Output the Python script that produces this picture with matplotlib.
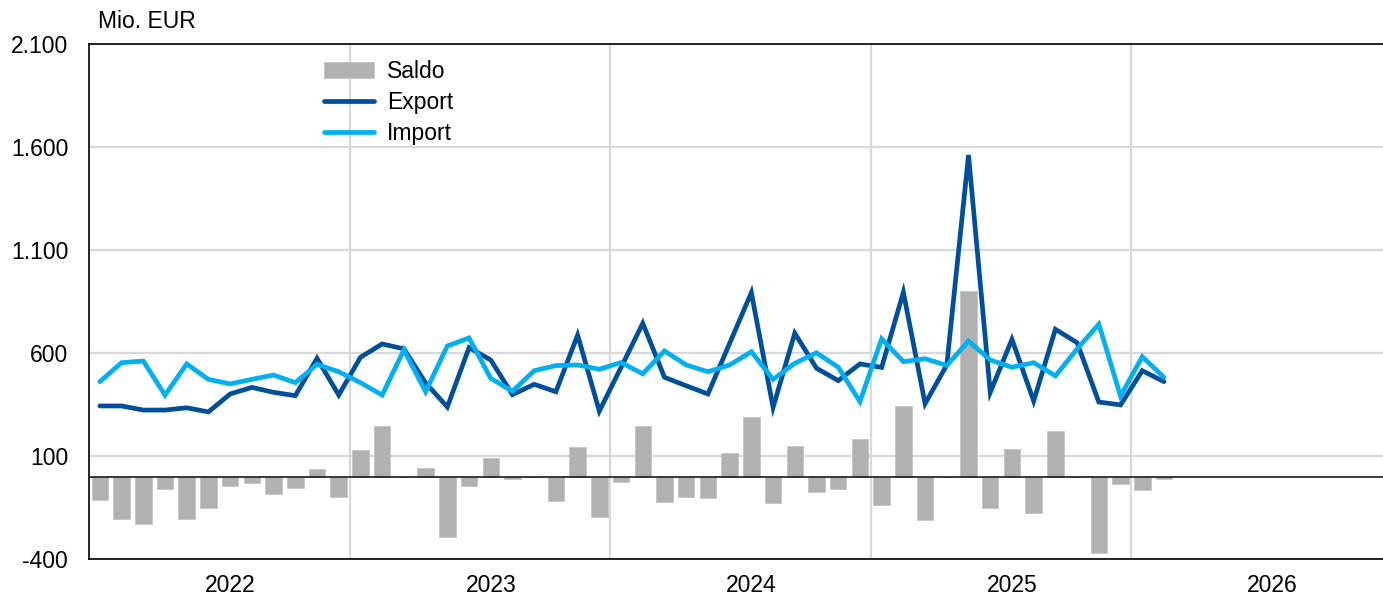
import matplotlib
matplotlib.use("Agg")
import matplotlib.pyplot as plt
from matplotlib.ticker import FixedLocator, FuncFormatter

plt.rcParams['font.family'] = ['Liberation Sans', 'DejaVu Sans']

# Monthly data, Jan 2022 - Feb 2026 (Mio. EUR)
years = ["2022", "2023", "2024", "2025", "2026"]
export = [343, 343, 323, 323, 334, 314, 401, 433, 409, 393, 574, 396,
          579, 644, 620, 455, 338, 626, 566, 398, 448, 412, 687, 318,
          530, 744, 482, 441, 401, 647, 893, 336, 696, 526, 466, 547,
          530, 895, 354, 542, 1561, 409, 666, 367, 715, 650, 362, 348,
          514, 461]
imports = [461, 553, 561, 396, 547, 472, 450, 472, 493, 456, 545, 509,
           456, 396, 615, 412, 634, 673, 477, 414, 514, 539, 542, 521,
           554, 499, 610, 542, 509, 542, 606, 472, 550, 601, 531, 364,
           669, 558, 572, 540, 658, 566, 531, 553, 489, 620, 740, 391,
           582, 482]
saldo = [-114, -206, -232, -62, -207, -154, -47, -33, -83, -57, 35, -97,
         129, 246, 0, 43, -292, -46, 90, -12, 0, -118, 145, -195,
         -25, 246, -122, -101, -102, 113, 291, -130, 149, -73, -60, 182,
         -138, 343, -211, -3, 902, -151, 132, -178, 221, 0, -372, -37,
         -65, -13]
yticks = [-400, 100, 600, 1100, 1600, 2100]

W, H = 1383, 597
fig = plt.figure(figsize=(W / 100, H / 100), dpi=100)
ax = fig.add_axes([89 / W, 38 / H, 1303 / W, 515 / H])

x = list(range(len(export)))
c_bar = '#b1b1b1'
c_exp = '#004f9b'
c_imp = '#00b0f0'

h_bar = ax.bar(x, saldo, width=0.76, color=c_bar, edgecolor='#c4c4c4', linewidth=0.6,
               label='Saldo', zorder=2)
h_exp, = ax.plot(x, export, color=c_exp, lw=3.4, solid_joinstyle='miter',
                 solid_capstyle='round', label='Export', zorder=4)
h_imp, = ax.plot(x, imports, color=c_imp, lw=3.4, solid_joinstyle='miter',
                 solid_capstyle='round', label='Import', zorder=5)
ax.axhline(0, color='#1a1a1a', lw=1.2, zorder=3)

ax.set_xlim(-0.5, 12 * len(years) - 0.5)
ax.set_ylim(-400, 2100)

ax.yaxis.set_major_locator(FixedLocator(yticks))
ax.yaxis.set_major_formatter(FuncFormatter(lambda v, p: f"{int(v):,}".replace(",", ".")))

ax.xaxis.set_major_locator(FixedLocator([12 * k - 0.5 for k in range(1, len(years))]))
ax.xaxis.set_minor_locator(FixedLocator([12 * k + 6.0 for k in range(len(years))]))
ax.xaxis.set_major_formatter(FuncFormatter(lambda v, p: ""))
ax.xaxis.set_minor_formatter(FuncFormatter(lambda v, p: years[int(round((v - 6.0) / 12))]))

ax.grid(True, which='major', axis='both', color='#d9d9d9', lw=1.6, zorder=0)
ax.set_axisbelow(True)
ax.tick_params(axis='both', which='both', length=0, labelsize=16.5, colors='black')
ax.tick_params(axis='y', pad=15)
ax.tick_params(axis='x', which='minor', pad=10.5)
for s in ax.spines.values():
    s.set_color('black')
    s.set_linewidth(1.2)

fig.text(98 / W, 1 - 22 / H, "Mio. EUR", fontsize=16.5, va='center', ha='left')

leg = fig.legend([h_bar, h_exp, h_imp], ['Saldo', 'Export', 'Import'],
                 loc='upper left', bbox_to_anchor=(324 / W, 1 - 60 / H),
                 frameon=False, fontsize=16.5, borderpad=0, borderaxespad=0,
                 handlelength=2.2, handletextpad=0.55, labelspacing=0.35)

fig.savefig("out.png", dpi=100)
